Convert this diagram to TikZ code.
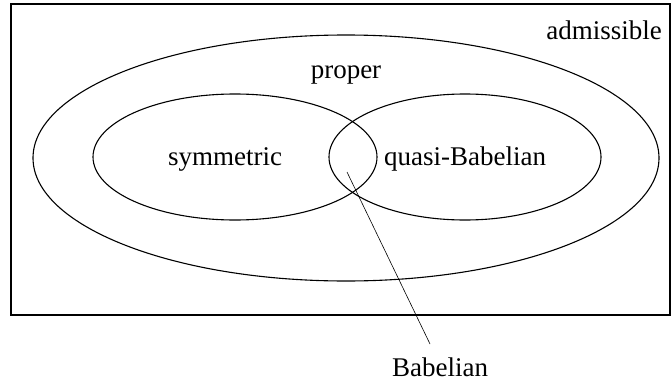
\documentclass[tikz,border=0pt]{standalone}
\usepackage{fontspec}
\setmainfont{Liberation Serif}
\begin{document}
\begin{tikzpicture}[x=1pt,y=-1pt,
  lbl/.style={font=\fontsize{27}{30}\selectfont, inner sep=0pt},
  set/.style={line width=1.1pt}]
\useasboundingbox (0,0) rectangle (672,383);
\draw[line width=1.4pt] (11,4) rectangle (670,315);
\draw[set] (346,158) ellipse [x radius=313, y radius=123];
\draw[set] (235,157) ellipse [x radius=142, y radius=63];
\draw[set] (465,157) ellipse [x radius=136, y radius=63];
\node[lbl, anchor=base] (adm) at (604,39) {admissible};
\node[lbl, anchor=base] (prop) at (346,78) {proper};
\node[lbl, anchor=base] (sym) at (225,165) {symmetric};
\node[lbl, anchor=base] (qb) at (465,165) {quasi-Babelian};
\node[lbl, anchor=base] (bab) at (440,376) {Babelian};
\coordinate (pt) at (347,172);
\coordinate (lend) at (430,344);
\draw[line width=0.6pt] (pt) -- (lend);
\end{tikzpicture}
\end{document}
